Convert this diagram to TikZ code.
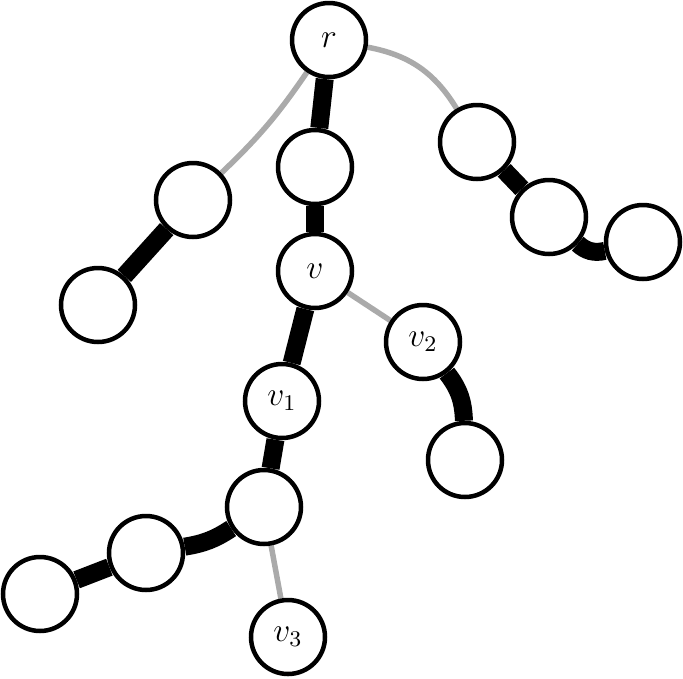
\documentclass[tikz,border=0pt]{standalone}
\usepackage{graphicx}
\usetikzlibrary{backgrounds}
\definecolor{edgegrey}{RGB}{170,170,170}
\newcommand{\biglabel}[1]{\scalebox{2.8}{\fontsize{12}{14}\selectfont$#1$}}
\tikzset{
  vtx/.style={circle, draw=black, fill=white, line width=4.5pt, minimum size=74pt, inner sep=0pt},
  heavy/.style={line width=18pt, black},
  light/.style={line width=5.5pt, edgegrey},
}
\begin{document}
\begin{tikzpicture}[x=1pt,y=-1pt]
\useasboundingbox (0,0) rectangle (683,678);
\node[vtx] (r)  at (329,40)  {\biglabel{r}};
\node[vtx] (a)  at (315,167) {};
\node[vtx] (v)  at (315,271) {\biglabel{v}};
\node[vtx] (v1) at (282,401) {\biglabel{v_1}};
\node[vtx] (b)  at (264,507) {};
\node[vtx] (c)  at (146,553) {};
\node[vtx] (d)  at (40,594)  {};
\node[vtx] (v3) at (288,637) {\biglabel{v_3}};
\node[vtx] (v2) at (423,342) {\biglabel{v_2}};
\node[vtx] (e)  at (465,460) {};
\node[vtx] (f)  at (193,200) {};
\node[vtx] (g)  at (98,305)  {};
\node[vtx] (h)  at (477,142) {};
\node[vtx] (i)  at (549,217) {};
\node[vtx] (j)  at (643,242) {};
\begin{pgfonlayer}{background}
\draw[heavy] (r) -- (a);
\draw[heavy] (a) -- (v);
\draw[heavy] (v) -- (v1);
\draw[heavy] (v1) -- (b);
\draw[heavy] (b) to[bend left=12] (c);
\draw[heavy] (c) -- (d);
\draw[light] (b) -- (v3);
\draw[light] (v) -- (v2);
\draw[heavy] (v2) to[bend left=18] (e);
\draw[light] (r) to[bend left=6] (f);
\draw[heavy] (f) -- (g);
\draw[light] (r) to[bend left=24] (h);
\draw[heavy] (h) -- (i);
\draw[heavy] (i) to[bend right=28] (j);
\end{pgfonlayer}
\end{tikzpicture}
\end{document}
